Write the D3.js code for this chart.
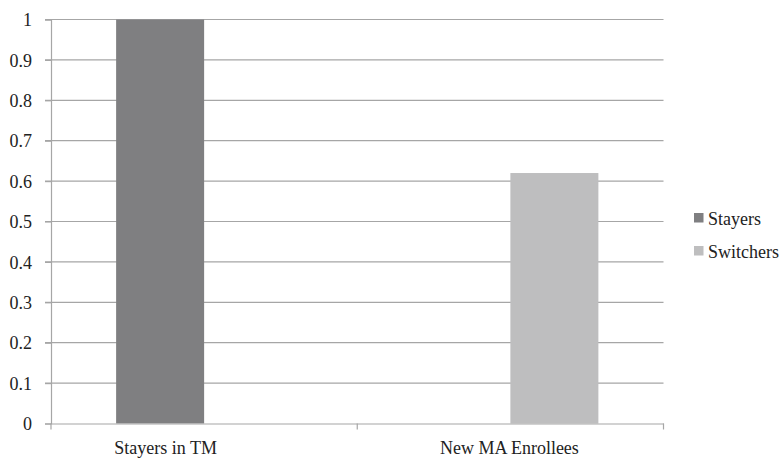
<!DOCTYPE html>
<html>
<head>
<meta charset="utf-8">
<script src="https://cdn.jsdelivr.net/npm/d3@7"></script>
<style>
  body { margin: 0; background: #fff; }
  svg { display: block; }
  svg text { font-family: "Times New Roman", "Liberation Serif", Times, "DejaVu Serif", serif !important; fill: #222; }
</style>
</head>
<body>
<svg id="chart" width="783" height="458"></svg>
<script>
// Categories and series values
const categories = ["Stayers in TM", "New MA Enrollees"];
const seriesNames = ["Stayers", "Switchers"];
const stayers = [1, 0];
const switchers = [0, 0.62];
const yTicks = [0, 0.1, 0.2, 0.3, 0.4, 0.5, 0.6, 0.7, 0.8, 0.9, 1];
const seriesColors = ["#7f7f81", "#bebebf"];

const seriesValues = [stayers, switchers];
const rows = categories.map((c, i) => ({
  category: c,
  values: seriesNames.map((s, j) => ({ series: s, value: seriesValues[j][i] }))
}));

const svg = d3.select("#chart");
const plotLeft = 51, plotRight = 663.5, plotTop = 19.5, plotBottom = 423.5;
const fontSize = "18px";

const x0 = d3.scaleBand().domain(categories).range([plotLeft, plotRight]).paddingInner(0).paddingOuter(0);
const x1 = d3.scaleBand().domain(seriesNames).range([0, x0.bandwidth()]).paddingInner(0).paddingOuter(0.74);
const y = d3.scaleLinear().domain([0, 1]).range([plotBottom, plotTop]);

// Horizontal gridlines
svg.append("g")
  .selectAll("line")
  .data(yTicks.filter(t => t > 0))
  .join("line")
  .attr("x1", plotLeft - 6).attr("x2", plotRight)
  .attr("y1", d => y(d)).attr("y2", d => y(d))
  .attr("stroke", "#a6a6a6").attr("stroke-width", 1.2);

// Y axis
const yAxis = svg.append("g")
  .attr("transform", `translate(${plotLeft},0)`)
  .call(d3.axisLeft(y).tickValues(yTicks).tickSize(6).tickPadding(13)
    .tickFormat(d => d === 0 ? "0" : d === 1 ? "1" : d3.format(".1f")(d)));
yAxis.attr("font-family", null);
yAxis.select(".domain").attr("stroke", "#a6a6a6").attr("stroke-width", 1.2);
yAxis.selectAll(".tick line").attr("stroke", "#a6a6a6").attr("stroke-width", 1.2);
yAxis.selectAll(".tick text")
  .style("font-size", fontSize)
  .attr("fill", "#222").attr("dy", "0.34em");

// Bars
svg.append("g")
  .selectAll("g")
  .data(rows)
  .join("g")
  .attr("transform", d => `translate(${x0(d.category)},0)`)
  .selectAll("rect")
  .data(d => d.values)
  .join("rect")
  .attr("x", d => x1(d.series))
  .attr("width", x1.bandwidth())
  .attr("y", d => y(d.value))
  .attr("height", d => plotBottom - y(d.value))
  .attr("fill", (d, i) => seriesColors[i]);

// X axis
const xAxis = svg.append("g")
  .attr("transform", `translate(0,${plotBottom})`)
  .call(d3.axisBottom(x0).tickSize(0));
xAxis.attr("font-family", null);
xAxis.select(".domain").attr("stroke", "#a6a6a6").attr("stroke-width", 1.2);
xAxis.selectAll(".tick text")
  .style("font-size", fontSize)
  .attr("fill", "#222").attr("y", 30.5).attr("dy", 0)
  // the first category label sits left of its band centre
  .attr("dx", (d, i) => i === 0 ? -38.5 : -1);
// Category boundary ticks
const boundaries = [plotLeft, ...categories.map(c => x0(c) + x0.bandwidth())];
svg.append("g")
  .selectAll("line")
  .data(boundaries)
  .join("line")
  .attr("x1", d => d).attr("x2", d => d)
  .attr("y1", plotBottom).attr("y2", plotBottom + 6)
  .attr("stroke", "#a6a6a6").attr("stroke-width", 1.2);

// Legend
const legend = svg.append("g").attr("transform", "translate(694,213)");
const items = legend.selectAll("g")
  .data(seriesNames)
  .join("g")
  .attr("transform", (d, i) => `translate(0,${i * 33})`);
items.append("rect").attr("width", 9.5).attr("height", 9.5)
  .attr("fill", (d, i) => seriesColors[i]);
items.append("text").attr("x", 14).attr("y", 12)
  .style("font-size", fontSize).text(d => d);
</script>
</body>
</html>
